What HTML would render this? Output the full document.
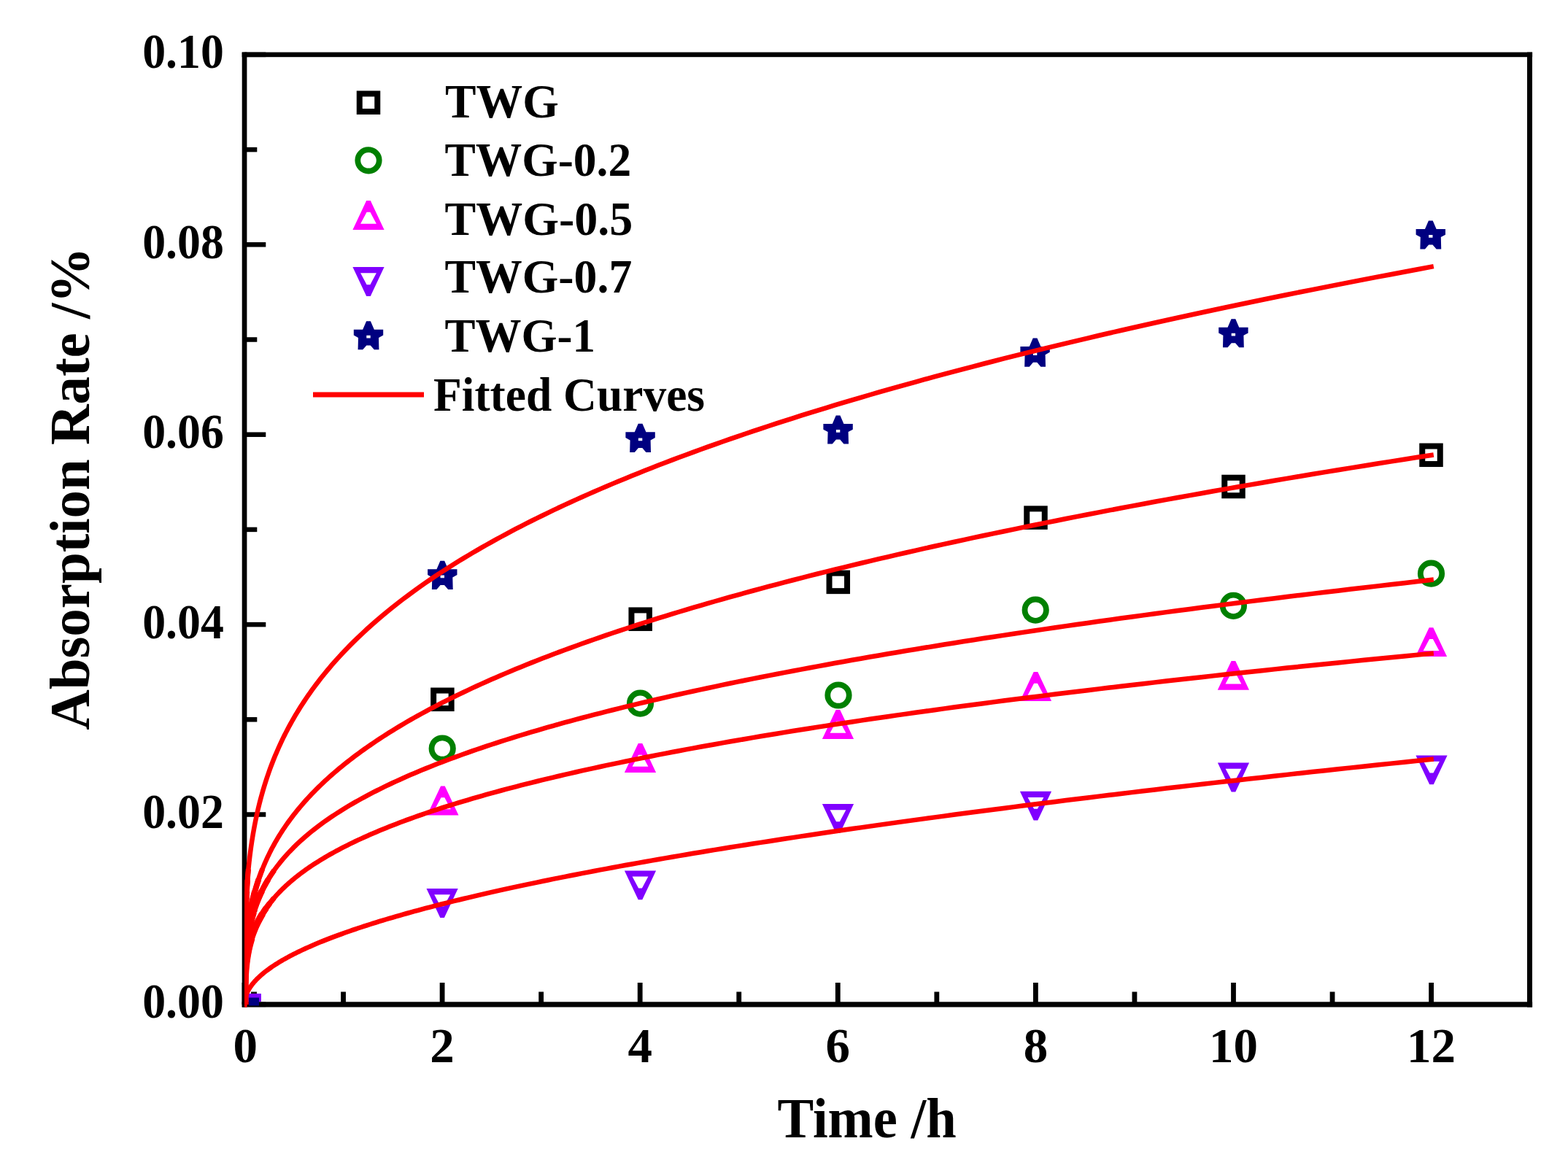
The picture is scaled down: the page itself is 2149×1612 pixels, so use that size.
<!DOCTYPE html>
<html><head><meta charset="utf-8"><title>Absorption Rate vs Time</title>
<style>html,body{margin:0;padding:0;background:#fff;}body{width:2149px;height:1612px;overflow:hidden;}svg{display:block;position:absolute;left:0;top:0;}text{font-family:"Liberation Serif", "Times New Roman", serif;font-weight:bold;fill:#000;}</style>
</head><body>
<svg width="2149" height="1612" viewBox="0 0 2149 1612">
<rect x="0" y="0" width="2149" height="1612" fill="#fff"/>
<rect x="331.70" y="71.60" width="6.70" height="1309.00" fill="#000"/>
<rect x="331.70" y="71.60" width="1768.45" height="6.60" fill="#000"/>
<rect x="2093.00" y="71.60" width="7.00" height="1309.00" fill="#000"/>
<rect x="331.70" y="1373.30" width="1768.45" height="7.20" fill="#000"/>
<rect x="331.60" y="1347.00" width="6.8" height="29.90" fill="#000"/>
<rect x="467.15" y="1359.50" width="6.8" height="17.40" fill="#000"/>
<rect x="602.70" y="1347.00" width="6.8" height="29.90" fill="#000"/>
<rect x="738.25" y="1359.50" width="6.8" height="17.40" fill="#000"/>
<rect x="873.80" y="1347.00" width="6.8" height="29.90" fill="#000"/>
<rect x="1009.35" y="1359.50" width="6.8" height="17.40" fill="#000"/>
<rect x="1144.90" y="1347.00" width="6.8" height="29.90" fill="#000"/>
<rect x="1280.45" y="1359.50" width="6.8" height="17.40" fill="#000"/>
<rect x="1416.00" y="1347.00" width="6.8" height="29.90" fill="#000"/>
<rect x="1551.55" y="1359.50" width="6.8" height="17.40" fill="#000"/>
<rect x="1687.10" y="1347.00" width="6.8" height="29.90" fill="#000"/>
<rect x="1822.65" y="1359.50" width="6.8" height="17.40" fill="#000"/>
<rect x="1958.20" y="1347.00" width="6.8" height="29.90" fill="#000"/>
<rect x="335.05" y="1373.65" width="29.25" height="6.5" fill="#000"/>
<rect x="335.05" y="1243.45" width="17.25" height="6.5" fill="#000"/>
<rect x="335.05" y="1113.25" width="29.25" height="6.5" fill="#000"/>
<rect x="335.05" y="983.05" width="17.25" height="6.5" fill="#000"/>
<rect x="335.05" y="852.85" width="29.25" height="6.5" fill="#000"/>
<rect x="335.05" y="722.65" width="17.25" height="6.5" fill="#000"/>
<rect x="335.05" y="592.45" width="29.25" height="6.5" fill="#000"/>
<rect x="335.05" y="462.25" width="17.25" height="6.5" fill="#000"/>
<rect x="335.05" y="332.05" width="29.25" height="6.5" fill="#000"/>
<rect x="335.05" y="201.85" width="17.25" height="6.5" fill="#000"/>
<rect x="335.05" y="71.65" width="29.25" height="6.5" fill="#000"/>
<rect x="344" y="1359.5" width="8" height="2.5" fill="#111"/>
<rect x="339.3" y="1362" width="18.6" height="11" fill="#8000ff"/>
<rect x="341" y="1367.5" width="14" height="11" fill="#000080"/>
<rect x="594.15" y="946.55" width="24.5" height="24.5" fill="none" stroke="#000" stroke-width="8"/>
<rect x="865.45" y="836.45" width="24.5" height="24.5" fill="none" stroke="#000" stroke-width="8"/>
<rect x="1136.55" y="785.65" width="24.5" height="24.5" fill="none" stroke="#000" stroke-width="8"/>
<rect x="1407.25" y="697.35" width="24.5" height="24.5" fill="none" stroke="#000" stroke-width="8"/>
<rect x="1678.25" y="654.75" width="24.5" height="24.5" fill="none" stroke="#000" stroke-width="8"/>
<rect x="1949.25" y="611.55" width="24.5" height="24.5" fill="none" stroke="#000" stroke-width="8"/>
<circle cx="606.20" cy="1026.00" r="14.7" fill="none" stroke="#008000" stroke-width="7.8"/>
<circle cx="877.50" cy="964.20" r="14.7" fill="none" stroke="#008000" stroke-width="7.8"/>
<circle cx="1149.00" cy="953.00" r="14.7" fill="none" stroke="#008000" stroke-width="7.8"/>
<circle cx="1419.20" cy="836.20" r="14.7" fill="none" stroke="#008000" stroke-width="7.8"/>
<circle cx="1690.40" cy="830.40" r="14.7" fill="none" stroke="#008000" stroke-width="7.8"/>
<circle cx="1961.50" cy="786.20" r="14.7" fill="none" stroke="#008000" stroke-width="7.8"/>
<path d="M585.30 1117.40 L604.10 1077.60 L609.70 1077.60 L628.50 1117.40 Z M596.00 1109.20 L604.50 1093.30 L609.30 1093.30 L617.80 1109.20 Z" fill="#ff00ff" fill-rule="evenodd"/>
<path d="M855.90 1058.90 L874.70 1019.10 L880.30 1019.10 L899.10 1058.90 Z M866.60 1050.70 L875.10 1034.80 L879.90 1034.80 L888.40 1050.70 Z" fill="#ff00ff" fill-rule="evenodd"/>
<path d="M1126.90 1012.90 L1145.70 973.10 L1151.30 973.10 L1170.10 1012.90 Z M1137.60 1004.70 L1146.10 988.80 L1150.90 988.80 L1159.40 1004.70 Z" fill="#ff00ff" fill-rule="evenodd"/>
<path d="M1397.90 960.90 L1416.70 921.10 L1422.30 921.10 L1441.10 960.90 Z M1408.60 952.70 L1417.10 936.80 L1421.90 936.80 L1430.40 952.70 Z" fill="#ff00ff" fill-rule="evenodd"/>
<path d="M1668.80 945.70 L1687.60 905.90 L1693.20 905.90 L1712.00 945.70 Z M1679.50 937.50 L1688.00 921.60 L1692.80 921.60 L1701.30 937.50 Z" fill="#ff00ff" fill-rule="evenodd"/>
<path d="M1939.90 900.10 L1958.70 860.30 L1964.30 860.30 L1983.10 900.10 Z M1950.60 891.90 L1959.10 876.00 L1963.90 876.00 L1972.40 891.90 Z" fill="#ff00ff" fill-rule="evenodd"/>
<path d="M584.50 1218.10 L603.30 1257.90 L608.90 1257.90 L627.70 1218.10 Z M595.20 1226.30 L603.70 1242.20 L608.50 1242.20 L617.00 1226.30 Z" fill="#8000ff" fill-rule="evenodd"/>
<path d="M855.90 1193.40 L874.70 1233.20 L880.30 1233.20 L899.10 1193.40 Z M866.60 1201.60 L875.10 1217.50 L879.90 1217.50 L888.40 1201.60 Z" fill="#8000ff" fill-rule="evenodd"/>
<path d="M1126.90 1102.10 L1145.70 1141.90 L1151.30 1141.90 L1170.10 1102.10 Z M1137.60 1110.30 L1146.10 1126.20 L1150.90 1126.20 L1159.40 1110.30 Z" fill="#8000ff" fill-rule="evenodd"/>
<path d="M1397.90 1084.70 L1416.70 1124.50 L1422.30 1124.50 L1441.10 1084.70 Z M1408.60 1092.90 L1417.10 1108.80 L1421.90 1108.80 L1430.40 1092.90 Z" fill="#8000ff" fill-rule="evenodd"/>
<path d="M1668.90 1045.60 L1687.70 1085.40 L1693.30 1085.40 L1712.10 1045.60 Z M1679.60 1053.80 L1688.10 1069.70 L1692.90 1069.70 L1701.40 1053.80 Z" fill="#8000ff" fill-rule="evenodd"/>
<path d="M1940.40 1035.50 L1959.20 1075.30 L1964.80 1075.30 L1983.60 1035.50 Z M1951.10 1043.70 L1959.60 1059.60 L1964.40 1059.60 L1972.90 1043.70 Z" fill="#8000ff" fill-rule="evenodd"/>
<path d="M603.42 768.83 L609.18 768.83 L614.13 780.37 L626.49 780.37 L626.49 788.09 L620.31 791.49 L620.72 807.97 L614.13 807.97 L608.98 802.00 L603.62 802.00 L598.47 807.97 L591.88 807.97 L592.29 791.49 L586.11 788.09 L586.11 780.37 L598.47 780.37 Z M603.60 788.40 h5.4 v3.8 h-5.4 Z" fill="#000080" fill-rule="evenodd"/>
<path d="M874.72 580.83 L880.48 580.83 L885.43 592.37 L897.79 592.37 L897.79 600.09 L891.61 603.49 L892.02 619.97 L885.43 619.97 L880.28 614.00 L874.92 614.00 L869.77 619.97 L863.18 619.97 L863.59 603.49 L857.41 600.09 L857.41 592.37 L869.77 592.37 Z M874.90 600.40 h5.4 v3.8 h-5.4 Z" fill="#000080" fill-rule="evenodd"/>
<path d="M1145.72 569.43 L1151.48 569.43 L1156.43 580.97 L1168.79 580.97 L1168.79 588.69 L1162.61 592.09 L1163.02 608.57 L1156.43 608.57 L1151.28 602.60 L1145.92 602.60 L1140.77 608.57 L1134.18 608.57 L1134.59 592.09 L1128.41 588.69 L1128.41 580.97 L1140.77 580.97 Z M1145.90 589.00 h5.4 v3.8 h-5.4 Z" fill="#000080" fill-rule="evenodd"/>
<path d="M1415.72 463.53 L1421.48 463.53 L1426.43 475.07 L1438.79 475.07 L1438.79 482.79 L1432.61 486.19 L1433.02 502.67 L1426.43 502.67 L1421.28 496.70 L1415.92 496.70 L1410.77 502.67 L1404.18 502.67 L1404.59 486.19 L1398.41 482.79 L1398.41 475.07 L1410.77 475.07 Z M1415.90 483.10 h5.4 v3.8 h-5.4 Z" fill="#000080" fill-rule="evenodd"/>
<path d="M1687.52 437.13 L1693.28 437.13 L1698.23 448.67 L1710.59 448.67 L1710.59 456.39 L1704.41 459.79 L1704.82 476.27 L1698.23 476.27 L1693.08 470.30 L1687.72 470.30 L1682.57 476.27 L1675.98 476.27 L1676.39 459.79 L1670.21 456.39 L1670.21 448.67 L1682.57 448.67 Z M1687.70 456.70 h5.4 v3.8 h-5.4 Z" fill="#000080" fill-rule="evenodd"/>
<path d="M1957.92 302.43 L1963.68 302.43 L1968.63 313.97 L1980.99 313.97 L1980.99 321.69 L1974.81 325.09 L1975.22 341.57 L1968.63 341.57 L1963.48 335.60 L1958.12 335.60 L1952.97 341.57 L1946.38 341.57 L1946.79 325.09 L1940.61 321.69 L1940.61 313.97 L1952.97 313.97 Z M1958.10 322.00 h5.4 v3.8 h-5.4 Z" fill="#000080" fill-rule="evenodd"/>
<defs><clipPath id="pc"><rect x="335.5" y="0" width="1800" height="1600"/></clipPath></defs>
<g clip-path="url(#pc)">
<path d="M335.00 1376.90 L335.00 1369.83 L335.00 1363.77 L335.00 1358.05 L335.01 1352.53 L335.01 1347.16 L335.02 1341.91 L335.03 1336.75 L335.05 1331.67 L335.07 1326.65 L335.09 1321.70 L335.12 1316.80 L335.16 1311.94 L335.20 1307.13 L335.25 1302.36 L335.31 1297.63 L335.38 1292.93 L335.45 1288.26 L335.54 1283.62 L335.63 1279.01 L335.74 1274.43 L335.86 1269.87 L335.99 1265.33 L336.13 1260.81 L336.28 1256.32 L336.45 1251.84 L336.63 1247.39 L336.82 1242.95 L337.03 1238.53 L337.26 1234.13 L337.50 1229.75 L337.76 1225.38 L338.03 1221.02 L338.33 1216.68 L338.64 1212.35 L338.97 1208.04 L339.32 1203.74 L339.69 1199.46 L340.08 1195.18 L340.49 1190.92 L340.92 1186.67 L341.38 1182.43 L341.86 1178.20 L342.36 1173.99 L342.88 1169.78 L343.43 1165.58 L344.01 1161.40 L344.61 1157.22 L345.23 1153.05 L345.89 1148.90 L346.57 1144.75 L347.28 1140.61 L348.01 1136.48 L348.78 1132.35 L349.57 1128.24 L350.40 1124.13 L351.25 1120.04 L352.14 1115.95 L353.06 1111.87 L354.01 1107.79 L354.99 1103.72 L356.01 1099.66 L357.06 1095.61 L358.14 1091.57 L359.26 1087.53 L360.42 1083.49 L361.61 1079.47 L362.83 1075.45 L364.10 1071.44 L365.40 1067.43 L366.74 1063.43 L368.12 1059.44 L369.54 1055.45 L371.00 1051.47 L372.50 1047.49 L374.04 1043.52 L375.63 1039.56 L377.25 1035.60 L378.92 1031.65 L380.63 1027.70 L382.38 1023.76 L384.18 1019.82 L386.03 1015.89 L387.92 1011.96 L389.85 1008.04 L391.84 1004.12 L393.86 1000.21 L395.94 996.30 L398.07 992.40 L400.24 988.50 L402.47 984.61 L404.74 980.72 L407.06 976.84 L409.44 972.96 L411.87 969.09 L414.35 965.22 L416.88 961.35 L419.46 957.49 L422.10 953.63 L424.80 949.78 L427.55 945.93 L430.35 942.09 L433.21 938.25 L436.13 934.41 L439.10 930.58 L442.13 926.75 L445.22 922.93 L448.37 919.11 L451.58 915.29 L454.85 911.48 L458.18 907.67 L461.57 903.86 L465.02 900.06 L468.54 896.26 L472.11 892.47 L475.75 888.68 L479.46 884.89 L483.22 881.11 L487.06 877.33 L490.96 873.55 L494.92 869.78 L498.95 866.01 L503.05 862.24 L507.22 858.48 L511.45 854.72 L515.76 850.96 L520.13 847.21 L524.57 843.46 L529.08 839.71 L533.67 835.97 L538.33 832.22 L543.05 828.49 L547.85 824.75 L552.73 821.02 L557.68 817.29 L562.70 813.57 L567.80 809.84 L572.97 806.12 L578.22 802.41 L583.55 798.69 L588.95 794.98 L594.43 791.27 L599.99 787.57 L605.63 783.86 L611.34 780.16 L617.14 776.47 L623.02 772.77 L628.98 769.08 L635.02 765.39 L641.14 761.71 L647.34 758.02 L653.63 754.34 L660.01 750.66 L666.46 746.99 L673.00 743.31 L679.63 739.64 L686.35 735.98 L693.15 732.31 L700.03 728.65 L707.01 724.99 L714.07 721.33 L721.22 717.67 L728.46 714.02 L735.80 710.37 L743.22 706.72 L750.73 703.07 L758.34 699.43 L766.03 695.79 L773.82 692.15 L781.71 688.51 L789.68 684.88 L797.75 681.25 L805.92 677.62 L814.18 673.99 L822.54 670.37 L830.99 666.74 L839.54 663.12 L848.19 659.50 L856.94 655.89 L865.79 652.27 L874.73 648.66 L883.78 645.05 L892.92 641.44 L902.17 637.84 L911.52 634.23 L920.97 630.63 L930.52 627.03 L940.18 623.44 L949.94 619.84 L959.81 616.25 L969.78 612.66 L979.85 609.07 L990.03 605.48 L1000.32 601.90 L1010.72 598.31 L1021.22 594.73 L1031.83 591.15 L1042.55 587.58 L1053.38 584.00 L1064.32 580.43 L1075.37 576.86 L1086.53 573.29 L1097.81 569.72 L1109.19 566.16 L1120.69 562.59 L1132.30 559.03 L1144.03 555.47 L1155.87 551.91 L1167.82 548.36 L1179.89 544.80 L1192.07 541.25 L1204.38 537.70 L1216.80 534.15 L1229.33 530.60 L1241.99 527.06 L1254.76 523.52 L1267.66 519.97 L1280.67 516.43 L1293.80 512.90 L1307.06 509.36 L1320.44 505.82 L1333.94 502.29 L1347.56 498.76 L1361.30 495.23 L1375.17 491.70 L1389.16 488.18 L1403.28 484.65 L1417.53 481.13 L1431.90 477.61 L1446.39 474.09 L1461.02 470.57 L1475.77 467.06 L1490.65 463.54 L1505.65 460.03 L1520.79 456.52 L1536.06 453.01 L1551.46 449.50 L1566.99 445.99 L1582.65 442.49 L1598.44 438.98 L1614.36 435.48 L1630.42 431.98 L1646.62 428.48 L1662.94 424.99 L1679.41 421.49 L1696.00 418.00 L1712.74 414.51 L1729.61 411.01 L1746.61 407.53 L1763.76 404.04 L1781.04 400.55 L1798.46 397.07 L1816.02 393.58 L1833.73 390.10 L1851.57 386.62 L1869.55 383.14 L1887.68 379.66 L1905.94 376.19 L1924.35 372.71 L1942.90 369.24 L1961.60 365.77" fill="none" stroke="#ff0000" stroke-width="6.5" stroke-linejoin="round" stroke-linecap="square"/>
<path d="M335.00 1376.90 L335.00 1374.05 L335.00 1371.19 L335.00 1368.32 L335.01 1365.46 L335.01 1362.58 L335.02 1359.71 L335.03 1356.84 L335.05 1353.96 L335.07 1351.09 L335.09 1348.21 L335.12 1345.33 L335.16 1342.46 L335.20 1339.58 L335.25 1336.70 L335.31 1333.82 L335.38 1330.94 L335.45 1328.05 L335.54 1325.17 L335.63 1322.29 L335.74 1319.41 L335.86 1316.52 L335.99 1313.64 L336.13 1310.76 L336.28 1307.87 L336.45 1304.99 L336.63 1302.10 L336.82 1299.22 L337.03 1296.33 L337.26 1293.45 L337.50 1290.56 L337.76 1287.67 L338.03 1284.79 L338.33 1281.90 L338.64 1279.01 L338.97 1276.13 L339.32 1273.24 L339.69 1270.35 L340.08 1267.46 L340.49 1264.57 L340.92 1261.68 L341.38 1258.80 L341.86 1255.91 L342.36 1253.02 L342.88 1250.13 L343.43 1247.24 L344.01 1244.35 L344.61 1241.46 L345.23 1238.57 L345.89 1235.68 L346.57 1232.79 L347.28 1229.90 L348.01 1227.01 L348.78 1224.11 L349.57 1221.22 L350.40 1218.33 L351.25 1215.44 L352.14 1212.55 L353.06 1209.66 L354.01 1206.77 L354.99 1203.87 L356.01 1200.98 L357.06 1198.09 L358.14 1195.20 L359.26 1192.30 L360.42 1189.41 L361.61 1186.52 L362.83 1183.63 L364.10 1180.73 L365.40 1177.84 L366.74 1174.95 L368.12 1172.05 L369.54 1169.16 L371.00 1166.26 L372.50 1163.37 L374.04 1160.48 L375.63 1157.58 L377.25 1154.69 L378.92 1151.79 L380.63 1148.90 L382.38 1146.01 L384.18 1143.11 L386.03 1140.22 L387.92 1137.32 L389.85 1134.43 L391.84 1131.53 L393.86 1128.64 L395.94 1125.74 L398.07 1122.85 L400.24 1119.95 L402.47 1117.05 L404.74 1114.16 L407.06 1111.26 L409.44 1108.37 L411.87 1105.47 L414.35 1102.58 L416.88 1099.68 L419.46 1096.78 L422.10 1093.89 L424.80 1090.99 L427.55 1088.09 L430.35 1085.20 L433.21 1082.30 L436.13 1079.41 L439.10 1076.51 L442.13 1073.61 L445.22 1070.71 L448.37 1067.82 L451.58 1064.92 L454.85 1062.02 L458.18 1059.13 L461.57 1056.23 L465.02 1053.33 L468.54 1050.43 L472.11 1047.54 L475.75 1044.64 L479.46 1041.74 L483.22 1038.84 L487.06 1035.95 L490.96 1033.05 L494.92 1030.15 L498.95 1027.25 L503.05 1024.35 L507.22 1021.46 L511.45 1018.56 L515.76 1015.66 L520.13 1012.76 L524.57 1009.86 L529.08 1006.96 L533.67 1004.07 L538.33 1001.17 L543.05 998.27 L547.85 995.37 L552.73 992.47 L557.68 989.57 L562.70 986.67 L567.80 983.77 L572.97 980.88 L578.22 977.98 L583.55 975.08 L588.95 972.18 L594.43 969.28 L599.99 966.38 L605.63 963.48 L611.34 960.58 L617.14 957.68 L623.02 954.78 L628.98 951.88 L635.02 948.98 L641.14 946.08 L647.34 943.18 L653.63 940.28 L660.01 937.38 L666.46 934.48 L673.00 931.58 L679.63 928.68 L686.35 925.78 L693.15 922.88 L700.03 919.98 L707.01 917.08 L714.07 914.18 L721.22 911.28 L728.46 908.38 L735.80 905.48 L743.22 902.58 L750.73 899.68 L758.34 896.78 L766.03 893.88 L773.82 890.98 L781.71 888.08 L789.68 885.18 L797.75 882.27 L805.92 879.37 L814.18 876.47 L822.54 873.57 L830.99 870.67 L839.54 867.77 L848.19 864.87 L856.94 861.97 L865.79 859.07 L874.73 856.16 L883.78 853.26 L892.92 850.36 L902.17 847.46 L911.52 844.56 L920.97 841.66 L930.52 838.75 L940.18 835.85 L949.94 832.95 L959.81 830.05 L969.78 827.15 L979.85 824.25 L990.03 821.34 L1000.32 818.44 L1010.72 815.54 L1021.22 812.64 L1031.83 809.74 L1042.55 806.83 L1053.38 803.93 L1064.32 801.03 L1075.37 798.13 L1086.53 795.23 L1097.81 792.32 L1109.19 789.42 L1120.69 786.52 L1132.30 783.62 L1144.03 780.71 L1155.87 777.81 L1167.82 774.91 L1179.89 772.01 L1192.07 769.10 L1204.38 766.20 L1216.80 763.30 L1229.33 760.39 L1241.99 757.49 L1254.76 754.59 L1267.66 751.69 L1280.67 748.78 L1293.80 745.88 L1307.06 742.98 L1320.44 740.07 L1333.94 737.17 L1347.56 734.27 L1361.30 731.36 L1375.17 728.46 L1389.16 725.56 L1403.28 722.66 L1417.53 719.75 L1431.90 716.85 L1446.39 713.95 L1461.02 711.04 L1475.77 708.14 L1490.65 705.23 L1505.65 702.33 L1520.79 699.43 L1536.06 696.52 L1551.46 693.62 L1566.99 690.72 L1582.65 687.81 L1598.44 684.91 L1614.36 682.01 L1630.42 679.10 L1646.62 676.20 L1662.94 673.29 L1679.41 670.39 L1696.00 667.49 L1712.74 664.58 L1729.61 661.68 L1746.61 658.77 L1763.76 655.87 L1781.04 652.97 L1798.46 650.06 L1816.02 647.16 L1833.73 644.25 L1851.57 641.35 L1869.55 638.44 L1887.68 635.54 L1905.94 632.64 L1924.35 629.73 L1942.90 626.83 L1961.60 623.92" fill="none" stroke="#ff0000" stroke-width="6.5" stroke-linejoin="round" stroke-linecap="square"/>
<path d="M335.00 1376.90 L335.00 1373.73 L335.00 1370.83 L335.00 1368.03 L335.01 1365.28 L335.01 1362.57 L335.02 1359.90 L335.03 1357.26 L335.05 1354.64 L335.07 1352.04 L335.09 1349.46 L335.12 1346.90 L335.16 1344.35 L335.20 1341.81 L335.25 1339.29 L335.31 1336.77 L335.38 1334.27 L335.45 1331.78 L335.54 1329.29 L335.63 1326.82 L335.74 1324.35 L335.86 1321.89 L335.99 1319.44 L336.13 1317.00 L336.28 1314.56 L336.45 1312.12 L336.63 1309.70 L336.82 1307.28 L337.03 1304.86 L337.26 1302.45 L337.50 1300.05 L337.76 1297.65 L338.03 1295.26 L338.33 1292.87 L338.64 1290.48 L338.97 1288.10 L339.32 1285.73 L339.69 1283.35 L340.08 1280.98 L340.49 1278.62 L340.92 1276.26 L341.38 1273.90 L341.86 1271.55 L342.36 1269.20 L342.88 1266.85 L343.43 1264.51 L344.01 1262.17 L344.61 1259.83 L345.23 1257.50 L345.89 1255.17 L346.57 1252.84 L347.28 1250.52 L348.01 1248.20 L348.78 1245.88 L349.57 1243.56 L350.40 1241.25 L351.25 1238.94 L352.14 1236.63 L353.06 1234.32 L354.01 1232.02 L354.99 1229.72 L356.01 1227.42 L357.06 1225.12 L358.14 1222.83 L359.26 1220.54 L360.42 1218.25 L361.61 1215.96 L362.83 1213.68 L364.10 1211.39 L365.40 1209.11 L366.74 1206.83 L368.12 1204.56 L369.54 1202.28 L371.00 1200.01 L372.50 1197.74 L374.04 1195.47 L375.63 1193.20 L377.25 1190.94 L378.92 1188.67 L380.63 1186.41 L382.38 1184.15 L384.18 1181.90 L386.03 1179.64 L387.92 1177.38 L389.85 1175.13 L391.84 1172.88 L393.86 1170.63 L395.94 1168.38 L398.07 1166.14 L400.24 1163.89 L402.47 1161.65 L404.74 1159.41 L407.06 1157.17 L409.44 1154.93 L411.87 1152.69 L414.35 1150.46 L416.88 1148.22 L419.46 1145.99 L422.10 1143.76 L424.80 1141.53 L427.55 1139.30 L430.35 1137.08 L433.21 1134.85 L436.13 1132.63 L439.10 1130.40 L442.13 1128.18 L445.22 1125.96 L448.37 1123.74 L451.58 1121.53 L454.85 1119.31 L458.18 1117.10 L461.57 1114.88 L465.02 1112.67 L468.54 1110.46 L472.11 1108.25 L475.75 1106.04 L479.46 1103.83 L483.22 1101.63 L487.06 1099.42 L490.96 1097.22 L494.92 1095.01 L498.95 1092.81 L503.05 1090.61 L507.22 1088.41 L511.45 1086.21 L515.76 1084.02 L520.13 1081.82 L524.57 1079.63 L529.08 1077.43 L533.67 1075.24 L538.33 1073.05 L543.05 1070.86 L547.85 1068.67 L552.73 1066.48 L557.68 1064.29 L562.70 1062.10 L567.80 1059.92 L572.97 1057.73 L578.22 1055.55 L583.55 1053.37 L588.95 1051.19 L594.43 1049.01 L599.99 1046.83 L605.63 1044.65 L611.34 1042.47 L617.14 1040.29 L623.02 1038.12 L628.98 1035.94 L635.02 1033.77 L641.14 1031.60 L647.34 1029.42 L653.63 1027.25 L660.01 1025.08 L666.46 1022.91 L673.00 1020.74 L679.63 1018.58 L686.35 1016.41 L693.15 1014.24 L700.03 1012.08 L707.01 1009.91 L714.07 1007.75 L721.22 1005.59 L728.46 1003.43 L735.80 1001.26 L743.22 999.10 L750.73 996.95 L758.34 994.79 L766.03 992.63 L773.82 990.47 L781.71 988.32 L789.68 986.16 L797.75 984.01 L805.92 981.85 L814.18 979.70 L822.54 977.55 L830.99 975.40 L839.54 973.25 L848.19 971.10 L856.94 968.95 L865.79 966.80 L874.73 964.65 L883.78 962.51 L892.92 960.36 L902.17 958.21 L911.52 956.07 L920.97 953.93 L930.52 951.78 L940.18 949.64 L949.94 947.50 L959.81 945.36 L969.78 943.22 L979.85 941.08 L990.03 938.94 L1000.32 936.80 L1010.72 934.66 L1021.22 932.53 L1031.83 930.39 L1042.55 928.26 L1053.38 926.12 L1064.32 923.99 L1075.37 921.85 L1086.53 919.72 L1097.81 917.59 L1109.19 915.46 L1120.69 913.33 L1132.30 911.20 L1144.03 909.07 L1155.87 906.94 L1167.82 904.81 L1179.89 902.68 L1192.07 900.56 L1204.38 898.43 L1216.80 896.30 L1229.33 894.18 L1241.99 892.05 L1254.76 889.93 L1267.66 887.81 L1280.67 885.68 L1293.80 883.56 L1307.06 881.44 L1320.44 879.32 L1333.94 877.20 L1347.56 875.08 L1361.30 872.96 L1375.17 870.84 L1389.16 868.73 L1403.28 866.61 L1417.53 864.49 L1431.90 862.38 L1446.39 860.26 L1461.02 858.15 L1475.77 856.03 L1490.65 853.92 L1505.65 851.81 L1520.79 849.69 L1536.06 847.58 L1551.46 845.47 L1566.99 843.36 L1582.65 841.25 L1598.44 839.14 L1614.36 837.03 L1630.42 834.92 L1646.62 832.81 L1662.94 830.71 L1679.41 828.60 L1696.00 826.49 L1712.74 824.39 L1729.61 822.28 L1746.61 820.18 L1763.76 818.07 L1781.04 815.97 L1798.46 813.87 L1816.02 811.76 L1833.73 809.66 L1851.57 807.56 L1869.55 805.46 L1887.68 803.36 L1905.94 801.26 L1924.35 799.16 L1942.90 797.06 L1961.60 794.96" fill="none" stroke="#ff0000" stroke-width="6.5" stroke-linejoin="round" stroke-linecap="square"/>
<path d="M335.00 1376.90 L335.00 1374.71 L335.00 1372.61 L335.00 1370.54 L335.01 1368.50 L335.01 1366.47 L335.02 1364.45 L335.03 1362.44 L335.05 1360.45 L335.07 1358.46 L335.09 1356.47 L335.12 1354.49 L335.16 1352.52 L335.20 1350.55 L335.25 1348.59 L335.31 1346.63 L335.38 1344.68 L335.45 1342.73 L335.54 1340.78 L335.63 1338.84 L335.74 1336.89 L335.86 1334.96 L335.99 1333.02 L336.13 1331.09 L336.28 1329.16 L336.45 1327.23 L336.63 1325.31 L336.82 1323.38 L337.03 1321.46 L337.26 1319.54 L337.50 1317.63 L337.76 1315.71 L338.03 1313.80 L338.33 1311.89 L338.64 1309.98 L338.97 1308.07 L339.32 1306.17 L339.69 1304.26 L340.08 1302.36 L340.49 1300.46 L340.92 1298.56 L341.38 1296.66 L341.86 1294.76 L342.36 1292.87 L342.88 1290.97 L343.43 1289.08 L344.01 1287.19 L344.61 1285.30 L345.23 1283.41 L345.89 1281.52 L346.57 1279.63 L347.28 1277.75 L348.01 1275.86 L348.78 1273.98 L349.57 1272.10 L350.40 1270.22 L351.25 1268.34 L352.14 1266.46 L353.06 1264.58 L354.01 1262.70 L354.99 1260.83 L356.01 1258.95 L357.06 1257.08 L358.14 1255.20 L359.26 1253.33 L360.42 1251.46 L361.61 1249.59 L362.83 1247.72 L364.10 1245.85 L365.40 1243.98 L366.74 1242.11 L368.12 1240.25 L369.54 1238.38 L371.00 1236.52 L372.50 1234.65 L374.04 1232.79 L375.63 1230.92 L377.25 1229.06 L378.92 1227.20 L380.63 1225.34 L382.38 1223.48 L384.18 1221.62 L386.03 1219.76 L387.92 1217.91 L389.85 1216.05 L391.84 1214.19 L393.86 1212.34 L395.94 1210.48 L398.07 1208.63 L400.24 1206.77 L402.47 1204.92 L404.74 1203.07 L407.06 1201.22 L409.44 1199.37 L411.87 1197.51 L414.35 1195.66 L416.88 1193.82 L419.46 1191.97 L422.10 1190.12 L424.80 1188.27 L427.55 1186.42 L430.35 1184.58 L433.21 1182.73 L436.13 1180.89 L439.10 1179.04 L442.13 1177.20 L445.22 1175.35 L448.37 1173.51 L451.58 1171.67 L454.85 1169.82 L458.18 1167.98 L461.57 1166.14 L465.02 1164.30 L468.54 1162.46 L472.11 1160.62 L475.75 1158.78 L479.46 1156.94 L483.22 1155.10 L487.06 1153.27 L490.96 1151.43 L494.92 1149.59 L498.95 1147.75 L503.05 1145.92 L507.22 1144.08 L511.45 1142.25 L515.76 1140.41 L520.13 1138.58 L524.57 1136.75 L529.08 1134.91 L533.67 1133.08 L538.33 1131.25 L543.05 1129.42 L547.85 1127.58 L552.73 1125.75 L557.68 1123.92 L562.70 1122.09 L567.80 1120.26 L572.97 1118.43 L578.22 1116.60 L583.55 1114.77 L588.95 1112.95 L594.43 1111.12 L599.99 1109.29 L605.63 1107.46 L611.34 1105.64 L617.14 1103.81 L623.02 1101.98 L628.98 1100.16 L635.02 1098.33 L641.14 1096.51 L647.34 1094.68 L653.63 1092.86 L660.01 1091.04 L666.46 1089.21 L673.00 1087.39 L679.63 1085.57 L686.35 1083.75 L693.15 1081.92 L700.03 1080.10 L707.01 1078.28 L714.07 1076.46 L721.22 1074.64 L728.46 1072.82 L735.80 1071.00 L743.22 1069.18 L750.73 1067.36 L758.34 1065.54 L766.03 1063.72 L773.82 1061.91 L781.71 1060.09 L789.68 1058.27 L797.75 1056.45 L805.92 1054.64 L814.18 1052.82 L822.54 1051.00 L830.99 1049.19 L839.54 1047.37 L848.19 1045.56 L856.94 1043.74 L865.79 1041.93 L874.73 1040.11 L883.78 1038.30 L892.92 1036.49 L902.17 1034.67 L911.52 1032.86 L920.97 1031.05 L930.52 1029.23 L940.18 1027.42 L949.94 1025.61 L959.81 1023.80 L969.78 1021.99 L979.85 1020.18 L990.03 1018.37 L1000.32 1016.55 L1010.72 1014.74 L1021.22 1012.93 L1031.83 1011.13 L1042.55 1009.32 L1053.38 1007.51 L1064.32 1005.70 L1075.37 1003.89 L1086.53 1002.08 L1097.81 1000.27 L1109.19 998.47 L1120.69 996.66 L1132.30 994.85 L1144.03 993.04 L1155.87 991.24 L1167.82 989.43 L1179.89 987.63 L1192.07 985.82 L1204.38 984.01 L1216.80 982.21 L1229.33 980.40 L1241.99 978.60 L1254.76 976.79 L1267.66 974.99 L1280.67 973.19 L1293.80 971.38 L1307.06 969.58 L1320.44 967.78 L1333.94 965.97 L1347.56 964.17 L1361.30 962.37 L1375.17 960.57 L1389.16 958.76 L1403.28 956.96 L1417.53 955.16 L1431.90 953.36 L1446.39 951.56 L1461.02 949.76 L1475.77 947.96 L1490.65 946.16 L1505.65 944.36 L1520.79 942.56 L1536.06 940.76 L1551.46 938.96 L1566.99 937.16 L1582.65 935.36 L1598.44 933.56 L1614.36 931.76 L1630.42 929.96 L1646.62 928.17 L1662.94 926.37 L1679.41 924.57 L1696.00 922.77 L1712.74 920.98 L1729.61 919.18 L1746.61 917.38 L1763.76 915.59 L1781.04 913.79 L1798.46 911.99 L1816.02 910.20 L1833.73 908.40 L1851.57 906.61 L1869.55 904.81 L1887.68 903.02 L1905.94 901.22 L1924.35 899.43 L1942.90 897.63 L1961.60 895.84" fill="none" stroke="#ff0000" stroke-width="6.5" stroke-linejoin="round" stroke-linecap="square"/>
<path d="M335.00 1376.90 L335.00 1376.82 L335.00 1376.67 L335.00 1376.47 L335.01 1376.24 L335.01 1375.98 L335.02 1375.69 L335.03 1375.38 L335.05 1375.04 L335.07 1374.69 L335.09 1374.31 L335.12 1373.91 L335.16 1373.50 L335.20 1373.06 L335.25 1372.62 L335.31 1372.15 L335.38 1371.67 L335.45 1371.18 L335.54 1370.67 L335.63 1370.14 L335.74 1369.60 L335.86 1369.05 L335.99 1368.49 L336.13 1367.91 L336.28 1367.32 L336.45 1366.72 L336.63 1366.10 L336.82 1365.48 L337.03 1364.84 L337.26 1364.19 L337.50 1363.53 L337.76 1362.86 L338.03 1362.18 L338.33 1361.49 L338.64 1360.79 L338.97 1360.07 L339.32 1359.35 L339.69 1358.62 L340.08 1357.87 L340.49 1357.12 L340.92 1356.36 L341.38 1355.59 L341.86 1354.81 L342.36 1354.02 L342.88 1353.22 L343.43 1352.41 L344.01 1351.59 L344.61 1350.77 L345.23 1349.93 L345.89 1349.09 L346.57 1348.24 L347.28 1347.38 L348.01 1346.51 L348.78 1345.63 L349.57 1344.75 L350.40 1343.85 L351.25 1342.95 L352.14 1342.04 L353.06 1341.13 L354.01 1340.20 L354.99 1339.27 L356.01 1338.33 L357.06 1337.38 L358.14 1336.43 L359.26 1335.46 L360.42 1334.49 L361.61 1333.52 L362.83 1332.53 L364.10 1331.54 L365.40 1330.54 L366.74 1329.53 L368.12 1328.52 L369.54 1327.50 L371.00 1326.47 L372.50 1325.43 L374.04 1324.39 L375.63 1323.34 L377.25 1322.29 L378.92 1321.22 L380.63 1320.16 L382.38 1319.08 L384.18 1318.00 L386.03 1316.91 L387.92 1315.81 L389.85 1314.71 L391.84 1313.60 L393.86 1312.49 L395.94 1311.36 L398.07 1310.24 L400.24 1309.10 L402.47 1307.96 L404.74 1306.82 L407.06 1305.66 L409.44 1304.50 L411.87 1303.34 L414.35 1302.17 L416.88 1300.99 L419.46 1299.80 L422.10 1298.62 L424.80 1297.42 L427.55 1296.22 L430.35 1295.01 L433.21 1293.80 L436.13 1292.58 L439.10 1291.35 L442.13 1290.12 L445.22 1288.88 L448.37 1287.64 L451.58 1286.39 L454.85 1285.14 L458.18 1283.88 L461.57 1282.61 L465.02 1281.34 L468.54 1280.07 L472.11 1278.78 L475.75 1277.50 L479.46 1276.20 L483.22 1274.90 L487.06 1273.60 L490.96 1272.29 L494.92 1270.97 L498.95 1269.65 L503.05 1268.33 L507.22 1267.00 L511.45 1265.66 L515.76 1264.32 L520.13 1262.97 L524.57 1261.62 L529.08 1260.26 L533.67 1258.90 L538.33 1257.53 L543.05 1256.15 L547.85 1254.77 L552.73 1253.39 L557.68 1252.00 L562.70 1250.61 L567.80 1249.21 L572.97 1247.80 L578.22 1246.39 L583.55 1244.98 L588.95 1243.56 L594.43 1242.13 L599.99 1240.71 L605.63 1239.27 L611.34 1237.83 L617.14 1236.39 L623.02 1234.94 L628.98 1233.48 L635.02 1232.02 L641.14 1230.56 L647.34 1229.09 L653.63 1227.62 L660.01 1226.14 L666.46 1224.66 L673.00 1223.17 L679.63 1221.67 L686.35 1220.18 L693.15 1218.67 L700.03 1217.17 L707.01 1215.66 L714.07 1214.14 L721.22 1212.62 L728.46 1211.09 L735.80 1209.56 L743.22 1208.03 L750.73 1206.49 L758.34 1204.94 L766.03 1203.39 L773.82 1201.84 L781.71 1200.28 L789.68 1198.72 L797.75 1197.15 L805.92 1195.58 L814.18 1194.00 L822.54 1192.42 L830.99 1190.84 L839.54 1189.25 L848.19 1187.65 L856.94 1186.06 L865.79 1184.45 L874.73 1182.84 L883.78 1181.23 L892.92 1179.62 L902.17 1178.00 L911.52 1176.37 L920.97 1174.74 L930.52 1173.11 L940.18 1171.47 L949.94 1169.83 L959.81 1168.18 L969.78 1166.53 L979.85 1164.87 L990.03 1163.21 L1000.32 1161.55 L1010.72 1159.88 L1021.22 1158.21 L1031.83 1156.53 L1042.55 1154.85 L1053.38 1153.17 L1064.32 1151.48 L1075.37 1149.78 L1086.53 1148.09 L1097.81 1146.39 L1109.19 1144.68 L1120.69 1142.97 L1132.30 1141.26 L1144.03 1139.54 L1155.87 1137.81 L1167.82 1136.09 L1179.89 1134.36 L1192.07 1132.62 L1204.38 1130.88 L1216.80 1129.14 L1229.33 1127.39 L1241.99 1125.64 L1254.76 1123.89 L1267.66 1122.13 L1280.67 1120.37 L1293.80 1118.60 L1307.06 1116.83 L1320.44 1115.05 L1333.94 1113.27 L1347.56 1111.49 L1361.30 1109.70 L1375.17 1107.91 L1389.16 1106.12 L1403.28 1104.32 L1417.53 1102.51 L1431.90 1100.71 L1446.39 1098.90 L1461.02 1097.08 L1475.77 1095.26 L1490.65 1093.44 L1505.65 1091.62 L1520.79 1089.79 L1536.06 1087.95 L1551.46 1086.11 L1566.99 1084.27 L1582.65 1082.43 L1598.44 1080.58 L1614.36 1078.72 L1630.42 1076.87 L1646.62 1075.01 L1662.94 1073.14 L1679.41 1071.27 L1696.00 1069.40 L1712.74 1067.53 L1729.61 1065.65 L1746.61 1063.76 L1763.76 1061.88 L1781.04 1059.99 L1798.46 1058.09 L1816.02 1056.19 L1833.73 1054.29 L1851.57 1052.38 L1869.55 1050.47 L1887.68 1048.56 L1905.94 1046.64 L1924.35 1044.72 L1942.90 1042.80 L1961.60 1040.87" fill="none" stroke="#ff0000" stroke-width="6.5" stroke-linejoin="round" stroke-linecap="square"/>
<path d="M335.00 1376.90 L335.00 1355.61 L335.02 1344.74 L335.03 1335.96 L335.06 1328.32 L335.09 1321.42 L335.14 1315.06 L335.18 1309.12 L335.24 1303.52 L335.30 1298.19 L335.38 1293.10 L335.46 1288.21 L335.54 1283.50 L335.64 1278.94 L335.74 1274.52 L335.85 1270.23 L335.96 1266.06 L336.09 1261.99 L336.22 1258.01 L336.36 1254.13 L336.51 1250.32 L336.66 1246.59 L336.82 1242.93 L336.99 1239.34 L337.17 1235.82 L337.35 1232.35 L337.55 1228.93 L337.74 1225.57 L337.95 1222.26 L338.17 1219.00 L338.39 1215.78 L338.62 1212.61 L338.86 1209.48 L339.10 1206.38 L339.35 1203.33 L339.61 1200.31 L339.88 1197.32 L340.15 1194.37 L340.44 1191.45" fill="none" stroke="#ff0000" stroke-width="7.2" stroke-linejoin="round"/>
<path d="M335.00 1376.90 L335.00 1355.61 L335.02 1344.74 L335.03 1335.96 L335.06 1328.32 L335.09 1321.42 L335.14 1315.06 L335.18 1309.12 L335.24 1303.52 L335.30 1298.19 L335.38 1293.10 L335.46 1288.21 L335.54 1283.50 L335.64 1278.94 L335.74 1274.52 L335.85 1270.23 L335.96 1266.06 L336.09 1261.99 L336.22 1258.01 L336.36 1254.13 L336.51 1250.32 L336.66 1246.59 L336.82 1242.93 L336.99 1239.34 L337.17 1235.82 L337.35 1232.35 L337.55 1228.93 L337.74 1225.57 L337.95 1222.26 L338.17 1219.00 L338.39 1215.78 L338.62 1212.61 L338.86 1209.48 L339.10 1206.38" fill="none" stroke="#ff0000" stroke-width="7.9" stroke-linejoin="round"/>
<path d="M335.00 1376.90 L335.00 1355.61 L335.02 1344.74 L335.03 1335.96 L335.06 1328.32 L335.09 1321.42 L335.14 1315.06 L335.18 1309.12 L335.24 1303.52 L335.30 1298.19 L335.38 1293.10 L335.46 1288.21 L335.54 1283.50 L335.64 1278.94 L335.74 1274.52 L335.85 1270.23 L335.96 1266.06 L336.09 1261.99 L336.22 1258.01 L336.36 1254.13 L336.51 1250.32 L336.66 1246.59 L336.82 1242.93 L336.99 1239.34 L337.17 1235.82 L337.35 1232.35 L337.55 1228.93 L337.74 1225.57 L337.95 1222.26" fill="none" stroke="#ff0000" stroke-width="8.6" stroke-linejoin="round"/>
<path d="M335.00 1376.90 L335.00 1355.61 L335.02 1344.74 L335.03 1335.96 L335.06 1328.32 L335.09 1321.42 L335.14 1315.06 L335.18 1309.12 L335.24 1303.52 L335.30 1298.19 L335.38 1293.10 L335.46 1288.21 L335.54 1283.50 L335.64 1278.94 L335.74 1274.52 L335.85 1270.23 L335.96 1266.06 L336.09 1261.99 L336.22 1258.01 L336.36 1254.13 L336.51 1250.32" fill="none" stroke="#ff0000" stroke-width="9.5" stroke-linejoin="round"/>
<path d="M335.00 1376.90 L335.00 1355.61 L335.02 1344.74 L335.03 1335.96 L335.06 1328.32 L335.09 1321.42 L335.14 1315.06 L335.18 1309.12 L335.24 1303.52 L335.30 1298.19 L335.38 1293.10 L335.46 1288.21" fill="none" stroke="#ff0000" stroke-width="10.5" stroke-linejoin="round"/>
<path d="M335.00 1376.90 L335.00 1367.06 L335.02 1361.26 L335.03 1356.40 L335.06 1352.05 L335.09 1348.05 L335.14 1344.31 L335.18 1340.77 L335.24 1337.40 L335.30 1334.16 L335.38 1331.04 L335.46 1328.02 L335.54 1325.09 L335.64 1322.25 L335.74 1319.47 L335.85 1316.76 L335.96 1314.11 L336.09 1311.51 L336.22 1308.96 L336.36 1306.46 L336.51 1304.00 L336.66 1301.59 L336.82 1299.21 L336.99 1296.86 L337.17 1294.55 L337.35 1292.27 L337.55 1290.03 L337.74 1287.81 L337.95 1285.61 L338.17 1283.45 L338.39 1281.30 L338.62 1279.18 L338.86 1277.09 L339.10 1275.01 L339.35 1272.96 L339.61 1270.92 L339.88 1268.91 L340.15 1266.91 L340.44 1264.93 L340.73 1262.97 L341.02 1261.03 L341.33 1259.10 L341.64 1257.19 L341.96 1255.29 L342.29 1253.40 L342.62 1251.53 L342.97 1249.68 L343.32 1247.84 L343.68 1246.01 L344.04 1244.19 L344.41 1242.38 L344.79 1240.59 L345.18 1238.81 L345.58 1237.04 L345.98 1235.28 L346.39 1233.53 L346.81 1231.80 L347.23 1230.07 L347.67 1228.35 L348.11 1226.64 L348.56 1224.95 L349.01 1223.26 L349.47 1221.58 L349.94 1219.91 L350.42 1218.25 L350.91 1216.59 L351.40 1214.95 L351.90 1213.31 L352.41 1211.68 L352.93 1210.06 L353.45 1208.45 L353.98 1206.84 L354.52 1205.25 L355.07 1203.66 L355.62 1202.07 L356.18 1200.50 L356.75 1198.93 L357.32 1197.37 L357.91 1195.81 L358.50 1194.26 L359.10 1192.72 L359.70 1191.18" fill="none" stroke="#ff0000" stroke-width="7.2" stroke-linejoin="round"/>
<path d="M335.00 1376.90 L335.00 1367.06 L335.02 1361.26 L335.03 1356.40 L335.06 1352.05 L335.09 1348.05 L335.14 1344.31 L335.18 1340.77 L335.24 1337.40 L335.30 1334.16 L335.38 1331.04 L335.46 1328.02 L335.54 1325.09 L335.64 1322.25 L335.74 1319.47 L335.85 1316.76 L335.96 1314.11 L336.09 1311.51 L336.22 1308.96 L336.36 1306.46 L336.51 1304.00 L336.66 1301.59 L336.82 1299.21 L336.99 1296.86 L337.17 1294.55 L337.35 1292.27 L337.55 1290.03 L337.74 1287.81 L337.95 1285.61 L338.17 1283.45 L338.39 1281.30 L338.62 1279.18 L338.86 1277.09 L339.10 1275.01 L339.35 1272.96 L339.61 1270.92 L339.88 1268.91 L340.15 1266.91 L340.44 1264.93 L340.73 1262.97 L341.02 1261.03 L341.33 1259.10 L341.64 1257.19 L341.96 1255.29 L342.29 1253.40 L342.62 1251.53 L342.97 1249.68 L343.32 1247.84 L343.68 1246.01 L344.04 1244.19 L344.41 1242.38 L344.79 1240.59 L345.18 1238.81 L345.58 1237.04 L345.98 1235.28 L346.39 1233.53 L346.81 1231.80 L347.23 1230.07 L347.67 1228.35 L348.11 1226.64 L348.56 1224.95 L349.01 1223.26 L349.47 1221.58 L349.94 1219.91 L350.42 1218.25 L350.91 1216.59 L351.40 1214.95 L351.90 1213.31 L352.41 1211.68 L352.93 1210.06 L353.45 1208.45 L353.98 1206.84 L354.52 1205.25" fill="none" stroke="#ff0000" stroke-width="7.9" stroke-linejoin="round"/>
<path d="M335.00 1376.90 L335.00 1367.06 L335.02 1361.26 L335.03 1356.40 L335.06 1352.05 L335.09 1348.05 L335.14 1344.31 L335.18 1340.77 L335.24 1337.40 L335.30 1334.16 L335.38 1331.04 L335.46 1328.02 L335.54 1325.09 L335.64 1322.25 L335.74 1319.47 L335.85 1316.76 L335.96 1314.11 L336.09 1311.51 L336.22 1308.96 L336.36 1306.46 L336.51 1304.00 L336.66 1301.59 L336.82 1299.21 L336.99 1296.86 L337.17 1294.55 L337.35 1292.27 L337.55 1290.03 L337.74 1287.81 L337.95 1285.61 L338.17 1283.45 L338.39 1281.30 L338.62 1279.18 L338.86 1277.09 L339.10 1275.01 L339.35 1272.96 L339.61 1270.92 L339.88 1268.91 L340.15 1266.91 L340.44 1264.93 L340.73 1262.97 L341.02 1261.03 L341.33 1259.10 L341.64 1257.19 L341.96 1255.29 L342.29 1253.40 L342.62 1251.53 L342.97 1249.68 L343.32 1247.84 L343.68 1246.01 L344.04 1244.19 L344.41 1242.38 L344.79 1240.59 L345.18 1238.81 L345.58 1237.04 L345.98 1235.28 L346.39 1233.53 L346.81 1231.80 L347.23 1230.07 L347.67 1228.35 L348.11 1226.64 L348.56 1224.95 L349.01 1223.26 L349.47 1221.58" fill="none" stroke="#ff0000" stroke-width="8.6" stroke-linejoin="round"/>
<path d="M335.00 1376.90 L335.00 1367.06 L335.02 1361.26 L335.03 1356.40 L335.06 1352.05 L335.09 1348.05 L335.14 1344.31 L335.18 1340.77 L335.24 1337.40 L335.30 1334.16 L335.38 1331.04 L335.46 1328.02 L335.54 1325.09 L335.64 1322.25 L335.74 1319.47 L335.85 1316.76 L335.96 1314.11 L336.09 1311.51 L336.22 1308.96 L336.36 1306.46 L336.51 1304.00 L336.66 1301.59 L336.82 1299.21 L336.99 1296.86 L337.17 1294.55 L337.35 1292.27 L337.55 1290.03 L337.74 1287.81 L337.95 1285.61 L338.17 1283.45 L338.39 1281.30 L338.62 1279.18 L338.86 1277.09 L339.10 1275.01 L339.35 1272.96 L339.61 1270.92 L339.88 1268.91 L340.15 1266.91 L340.44 1264.93 L340.73 1262.97 L341.02 1261.03 L341.33 1259.10 L341.64 1257.19 L341.96 1255.29 L342.29 1253.40 L342.62 1251.53" fill="none" stroke="#ff0000" stroke-width="9.5" stroke-linejoin="round"/>
<path d="M335.00 1376.90 L335.00 1367.06 L335.02 1361.26 L335.03 1356.40 L335.06 1352.05 L335.09 1348.05 L335.14 1344.31 L335.18 1340.77 L335.24 1337.40 L335.30 1334.16 L335.38 1331.04 L335.46 1328.02 L335.54 1325.09 L335.64 1322.25 L335.74 1319.47 L335.85 1316.76 L335.96 1314.11 L336.09 1311.51 L336.22 1308.96 L336.36 1306.46 L336.51 1304.00 L336.66 1301.59 L336.82 1299.21 L336.99 1296.86 L337.17 1294.55 L337.35 1292.27 L337.55 1290.03 L337.74 1287.81 L337.95 1285.61" fill="none" stroke="#ff0000" stroke-width="10.5" stroke-linejoin="round"/>
<path d="M335.00 1376.90 L335.00 1366.81 L335.02 1361.34 L335.03 1356.86 L335.06 1352.91 L335.09 1349.32 L335.14 1345.99 L335.18 1342.86 L335.24 1339.90 L335.30 1337.07 L335.38 1334.36 L335.46 1331.75 L335.54 1329.23 L335.64 1326.78 L335.74 1324.40 L335.85 1322.09 L335.96 1319.84 L336.09 1317.63 L336.22 1315.48 L336.36 1313.37 L336.51 1311.30 L336.66 1309.26 L336.82 1307.27 L336.99 1305.31 L337.17 1303.38 L337.35 1301.48 L337.55 1299.61 L337.74 1297.76 L337.95 1295.94 L338.17 1294.15 L338.39 1292.37 L338.62 1290.62 L338.86 1288.89 L339.10 1287.19 L339.35 1285.50 L339.61 1283.83 L339.88 1282.17 L340.15 1280.54 L340.44 1278.92 L340.73 1277.31 L341.02 1275.72 L341.33 1274.15 L341.64 1272.59 L341.96 1271.05 L342.29 1269.51 L342.62 1268.00 L342.97 1266.49 L343.32 1264.99 L343.68 1263.51 L344.04 1262.04 L344.41 1260.58 L344.79 1259.13 L345.18 1257.70 L345.58 1256.27 L345.98 1254.85 L346.39 1253.44 L346.81 1252.04 L347.23 1250.66 L347.67 1249.28 L348.11 1247.91 L348.56 1246.54 L349.01 1245.19 L349.47 1243.84 L349.94 1242.51 L350.42 1241.18 L350.91 1239.86 L351.40 1238.54 L351.90 1237.24 L352.41 1235.94 L352.93 1234.64 L353.45 1233.36 L353.98 1232.08 L354.52 1230.81 L355.07 1229.54 L355.62 1228.29 L356.18 1227.03 L356.75 1225.79 L357.32 1224.55 L357.91 1223.32 L358.50 1222.09 L359.10 1220.87 L359.70 1219.65 L360.32 1218.44 L360.94 1217.23 L361.57 1216.03 L362.20 1214.84 L362.85 1213.65 L363.50 1212.47 L364.16 1211.29 L364.82 1210.11 L365.50 1208.95 L366.18 1207.78 L366.87 1206.62 L367.57 1205.47 L368.27 1204.32 L368.98 1203.17 L369.70 1202.03 L370.43 1200.90 L371.16 1199.76 L371.90 1198.64 L372.65 1197.51 L373.41 1196.39 L374.17 1195.28 L374.95 1194.17 L375.73 1193.06" fill="none" stroke="#ff0000" stroke-width="7.2" stroke-linejoin="round"/>
<path d="M335.00 1376.90 L335.00 1366.81 L335.02 1361.34 L335.03 1356.86 L335.06 1352.91 L335.09 1349.32 L335.14 1345.99 L335.18 1342.86 L335.24 1339.90 L335.30 1337.07 L335.38 1334.36 L335.46 1331.75 L335.54 1329.23 L335.64 1326.78 L335.74 1324.40 L335.85 1322.09 L335.96 1319.84 L336.09 1317.63 L336.22 1315.48 L336.36 1313.37 L336.51 1311.30 L336.66 1309.26 L336.82 1307.27 L336.99 1305.31 L337.17 1303.38 L337.35 1301.48 L337.55 1299.61 L337.74 1297.76 L337.95 1295.94 L338.17 1294.15 L338.39 1292.37 L338.62 1290.62 L338.86 1288.89 L339.10 1287.19 L339.35 1285.50 L339.61 1283.83 L339.88 1282.17 L340.15 1280.54 L340.44 1278.92 L340.73 1277.31 L341.02 1275.72 L341.33 1274.15 L341.64 1272.59 L341.96 1271.05 L342.29 1269.51 L342.62 1268.00 L342.97 1266.49 L343.32 1264.99 L343.68 1263.51 L344.04 1262.04 L344.41 1260.58 L344.79 1259.13 L345.18 1257.70 L345.58 1256.27 L345.98 1254.85 L346.39 1253.44 L346.81 1252.04 L347.23 1250.66 L347.67 1249.28 L348.11 1247.91 L348.56 1246.54 L349.01 1245.19 L349.47 1243.84 L349.94 1242.51 L350.42 1241.18 L350.91 1239.86 L351.40 1238.54 L351.90 1237.24 L352.41 1235.94 L352.93 1234.64 L353.45 1233.36 L353.98 1232.08 L354.52 1230.81 L355.07 1229.54 L355.62 1228.29 L356.18 1227.03 L356.75 1225.79 L357.32 1224.55 L357.91 1223.32 L358.50 1222.09 L359.10 1220.87 L359.70 1219.65 L360.32 1218.44 L360.94 1217.23 L361.57 1216.03 L362.20 1214.84 L362.85 1213.65 L363.50 1212.47 L364.16 1211.29 L364.82 1210.11 L365.50 1208.95 L366.18 1207.78 L366.87 1206.62 L367.57 1205.47" fill="none" stroke="#ff0000" stroke-width="7.9" stroke-linejoin="round"/>
<path d="M335.00 1376.90 L335.00 1366.81 L335.02 1361.34 L335.03 1356.86 L335.06 1352.91 L335.09 1349.32 L335.14 1345.99 L335.18 1342.86 L335.24 1339.90 L335.30 1337.07 L335.38 1334.36 L335.46 1331.75 L335.54 1329.23 L335.64 1326.78 L335.74 1324.40 L335.85 1322.09 L335.96 1319.84 L336.09 1317.63 L336.22 1315.48 L336.36 1313.37 L336.51 1311.30 L336.66 1309.26 L336.82 1307.27 L336.99 1305.31 L337.17 1303.38 L337.35 1301.48 L337.55 1299.61 L337.74 1297.76 L337.95 1295.94 L338.17 1294.15 L338.39 1292.37 L338.62 1290.62 L338.86 1288.89 L339.10 1287.19 L339.35 1285.50 L339.61 1283.83 L339.88 1282.17 L340.15 1280.54 L340.44 1278.92 L340.73 1277.31 L341.02 1275.72 L341.33 1274.15 L341.64 1272.59 L341.96 1271.05 L342.29 1269.51 L342.62 1268.00 L342.97 1266.49 L343.32 1264.99 L343.68 1263.51 L344.04 1262.04 L344.41 1260.58 L344.79 1259.13 L345.18 1257.70 L345.58 1256.27 L345.98 1254.85 L346.39 1253.44 L346.81 1252.04 L347.23 1250.66 L347.67 1249.28 L348.11 1247.91 L348.56 1246.54 L349.01 1245.19 L349.47 1243.84 L349.94 1242.51 L350.42 1241.18 L350.91 1239.86 L351.40 1238.54 L351.90 1237.24 L352.41 1235.94 L352.93 1234.64 L353.45 1233.36 L353.98 1232.08 L354.52 1230.81 L355.07 1229.54 L355.62 1228.29 L356.18 1227.03 L356.75 1225.79 L357.32 1224.55 L357.91 1223.32 L358.50 1222.09 L359.10 1220.87" fill="none" stroke="#ff0000" stroke-width="8.6" stroke-linejoin="round"/>
<path d="M335.00 1376.90 L335.00 1366.81 L335.02 1361.34 L335.03 1356.86 L335.06 1352.91 L335.09 1349.32 L335.14 1345.99 L335.18 1342.86 L335.24 1339.90 L335.30 1337.07 L335.38 1334.36 L335.46 1331.75 L335.54 1329.23 L335.64 1326.78 L335.74 1324.40 L335.85 1322.09 L335.96 1319.84 L336.09 1317.63 L336.22 1315.48 L336.36 1313.37 L336.51 1311.30 L336.66 1309.26 L336.82 1307.27 L336.99 1305.31 L337.17 1303.38 L337.35 1301.48 L337.55 1299.61 L337.74 1297.76 L337.95 1295.94 L338.17 1294.15 L338.39 1292.37 L338.62 1290.62 L338.86 1288.89 L339.10 1287.19 L339.35 1285.50 L339.61 1283.83 L339.88 1282.17 L340.15 1280.54 L340.44 1278.92 L340.73 1277.31 L341.02 1275.72 L341.33 1274.15 L341.64 1272.59 L341.96 1271.05 L342.29 1269.51 L342.62 1268.00 L342.97 1266.49 L343.32 1264.99 L343.68 1263.51 L344.04 1262.04 L344.41 1260.58 L344.79 1259.13 L345.18 1257.70 L345.58 1256.27 L345.98 1254.85 L346.39 1253.44 L346.81 1252.04 L347.23 1250.66" fill="none" stroke="#ff0000" stroke-width="9.5" stroke-linejoin="round"/>
<path d="M335.00 1376.90 L335.00 1366.81 L335.02 1361.34 L335.03 1356.86 L335.06 1352.91 L335.09 1349.32 L335.14 1345.99 L335.18 1342.86 L335.24 1339.90 L335.30 1337.07 L335.38 1334.36 L335.46 1331.75 L335.54 1329.23 L335.64 1326.78 L335.74 1324.40 L335.85 1322.09 L335.96 1319.84 L336.09 1317.63 L336.22 1315.48 L336.36 1313.37 L336.51 1311.30 L336.66 1309.26 L336.82 1307.27 L336.99 1305.31 L337.17 1303.38 L337.35 1301.48 L337.55 1299.61 L337.74 1297.76 L337.95 1295.94 L338.17 1294.15 L338.39 1292.37 L338.62 1290.62 L338.86 1288.89 L339.10 1287.19 L339.35 1285.50" fill="none" stroke="#ff0000" stroke-width="10.5" stroke-linejoin="round"/>
<path d="M335.00 1376.90 L335.00 1369.64 L335.02 1365.54 L335.03 1362.14 L335.06 1359.12 L335.09 1356.36 L335.14 1353.79 L335.18 1351.37 L335.24 1349.07 L335.30 1346.86 L335.38 1344.75 L335.46 1342.70 L335.54 1340.73 L335.64 1338.81 L335.74 1336.94 L335.85 1335.11 L335.96 1333.33 L336.09 1331.59 L336.22 1329.89 L336.36 1328.21 L336.51 1326.57 L336.66 1324.96 L336.82 1323.38 L336.99 1321.82 L337.17 1320.28 L337.35 1318.76 L337.55 1317.27 L337.74 1315.80 L337.95 1314.35 L338.17 1312.91 L338.39 1311.49 L338.62 1310.09 L338.86 1308.71 L339.10 1307.34 L339.35 1305.98 L339.61 1304.64 L339.88 1303.31 L340.15 1302.00 L340.44 1300.69 L340.73 1299.40 L341.02 1298.13 L341.33 1296.86 L341.64 1295.60 L341.96 1294.36 L342.29 1293.12 L342.62 1291.89 L342.97 1290.68 L343.32 1289.47 L343.68 1288.27 L344.04 1287.08 L344.41 1285.90 L344.79 1284.73 L345.18 1283.57 L345.58 1282.41 L345.98 1281.26 L346.39 1280.12 L346.81 1278.99 L347.23 1277.86 L347.67 1276.74 L348.11 1275.63 L348.56 1274.52 L349.01 1273.42 L349.47 1272.33 L349.94 1271.24 L350.42 1270.16 L350.91 1269.08 L351.40 1268.02 L351.90 1266.95 L352.41 1265.89 L352.93 1264.84 L353.45 1263.79 L353.98 1262.75 L354.52 1261.72 L355.07 1260.68 L355.62 1259.66 L356.18 1258.64 L356.75 1257.62 L357.32 1256.61 L357.91 1255.60 L358.50 1254.60 L359.10 1253.60 L359.70 1252.60 L360.32 1251.61 L360.94 1250.63 L361.57 1249.65 L362.20 1248.67 L362.85 1247.70 L363.50 1246.73 L364.16 1245.76 L364.82 1244.80 L365.50 1243.84 L366.18 1242.89 L366.87 1241.94 L367.57 1240.99 L368.27 1240.05 L368.98 1239.11 L369.70 1238.18 L370.43 1237.24 L371.16 1236.31 L371.90 1235.39 L372.65 1234.47 L373.41 1233.55 L374.17 1232.63 L374.95 1231.72 L375.73 1230.81" fill="none" stroke="#ff0000" stroke-width="7.2" stroke-linejoin="round"/>
<path d="M335.00 1376.90 L335.00 1369.64 L335.02 1365.54 L335.03 1362.14 L335.06 1359.12 L335.09 1356.36 L335.14 1353.79 L335.18 1351.37 L335.24 1349.07 L335.30 1346.86 L335.38 1344.75 L335.46 1342.70 L335.54 1340.73 L335.64 1338.81 L335.74 1336.94 L335.85 1335.11 L335.96 1333.33 L336.09 1331.59 L336.22 1329.89 L336.36 1328.21 L336.51 1326.57 L336.66 1324.96 L336.82 1323.38 L336.99 1321.82 L337.17 1320.28 L337.35 1318.76 L337.55 1317.27 L337.74 1315.80 L337.95 1314.35 L338.17 1312.91 L338.39 1311.49 L338.62 1310.09 L338.86 1308.71 L339.10 1307.34 L339.35 1305.98 L339.61 1304.64 L339.88 1303.31 L340.15 1302.00 L340.44 1300.69 L340.73 1299.40 L341.02 1298.13 L341.33 1296.86 L341.64 1295.60 L341.96 1294.36 L342.29 1293.12 L342.62 1291.89 L342.97 1290.68 L343.32 1289.47 L343.68 1288.27 L344.04 1287.08 L344.41 1285.90 L344.79 1284.73 L345.18 1283.57 L345.58 1282.41 L345.98 1281.26 L346.39 1280.12 L346.81 1278.99 L347.23 1277.86 L347.67 1276.74 L348.11 1275.63 L348.56 1274.52 L349.01 1273.42 L349.47 1272.33 L349.94 1271.24 L350.42 1270.16 L350.91 1269.08 L351.40 1268.02 L351.90 1266.95 L352.41 1265.89 L352.93 1264.84 L353.45 1263.79 L353.98 1262.75 L354.52 1261.72 L355.07 1260.68 L355.62 1259.66 L356.18 1258.64 L356.75 1257.62 L357.32 1256.61 L357.91 1255.60 L358.50 1254.60 L359.10 1253.60 L359.70 1252.60 L360.32 1251.61 L360.94 1250.63 L361.57 1249.65 L362.20 1248.67 L362.85 1247.70 L363.50 1246.73 L364.16 1245.76 L364.82 1244.80 L365.50 1243.84 L366.18 1242.89 L366.87 1241.94 L367.57 1240.99 L368.27 1240.05 L368.98 1239.11 L369.70 1238.18" fill="none" stroke="#ff0000" stroke-width="7.9" stroke-linejoin="round"/>
<path d="M335.00 1376.90 L335.00 1369.64 L335.02 1365.54 L335.03 1362.14 L335.06 1359.12 L335.09 1356.36 L335.14 1353.79 L335.18 1351.37 L335.24 1349.07 L335.30 1346.86 L335.38 1344.75 L335.46 1342.70 L335.54 1340.73 L335.64 1338.81 L335.74 1336.94 L335.85 1335.11 L335.96 1333.33 L336.09 1331.59 L336.22 1329.89 L336.36 1328.21 L336.51 1326.57 L336.66 1324.96 L336.82 1323.38 L336.99 1321.82 L337.17 1320.28 L337.35 1318.76 L337.55 1317.27 L337.74 1315.80 L337.95 1314.35 L338.17 1312.91 L338.39 1311.49 L338.62 1310.09 L338.86 1308.71 L339.10 1307.34 L339.35 1305.98 L339.61 1304.64 L339.88 1303.31 L340.15 1302.00 L340.44 1300.69 L340.73 1299.40 L341.02 1298.13 L341.33 1296.86 L341.64 1295.60 L341.96 1294.36 L342.29 1293.12 L342.62 1291.89 L342.97 1290.68 L343.32 1289.47 L343.68 1288.27 L344.04 1287.08 L344.41 1285.90 L344.79 1284.73 L345.18 1283.57 L345.58 1282.41 L345.98 1281.26 L346.39 1280.12 L346.81 1278.99 L347.23 1277.86 L347.67 1276.74 L348.11 1275.63 L348.56 1274.52 L349.01 1273.42 L349.47 1272.33 L349.94 1271.24 L350.42 1270.16 L350.91 1269.08 L351.40 1268.02 L351.90 1266.95 L352.41 1265.89 L352.93 1264.84 L353.45 1263.79 L353.98 1262.75 L354.52 1261.72 L355.07 1260.68 L355.62 1259.66 L356.18 1258.64 L356.75 1257.62 L357.32 1256.61 L357.91 1255.60 L358.50 1254.60 L359.10 1253.60 L359.70 1252.60 L360.32 1251.61 L360.94 1250.63 L361.57 1249.65 L362.20 1248.67 L362.85 1247.70 L363.50 1246.73 L364.16 1245.76 L364.82 1244.80" fill="none" stroke="#ff0000" stroke-width="8.6" stroke-linejoin="round"/>
<path d="M335.00 1376.90 L335.00 1369.64 L335.02 1365.54 L335.03 1362.14 L335.06 1359.12 L335.09 1356.36 L335.14 1353.79 L335.18 1351.37 L335.24 1349.07 L335.30 1346.86 L335.38 1344.75 L335.46 1342.70 L335.54 1340.73 L335.64 1338.81 L335.74 1336.94 L335.85 1335.11 L335.96 1333.33 L336.09 1331.59 L336.22 1329.89 L336.36 1328.21 L336.51 1326.57 L336.66 1324.96 L336.82 1323.38 L336.99 1321.82 L337.17 1320.28 L337.35 1318.76 L337.55 1317.27 L337.74 1315.80 L337.95 1314.35 L338.17 1312.91 L338.39 1311.49 L338.62 1310.09 L338.86 1308.71 L339.10 1307.34 L339.35 1305.98 L339.61 1304.64 L339.88 1303.31 L340.15 1302.00 L340.44 1300.69 L340.73 1299.40 L341.02 1298.13 L341.33 1296.86 L341.64 1295.60 L341.96 1294.36 L342.29 1293.12 L342.62 1291.89 L342.97 1290.68 L343.32 1289.47 L343.68 1288.27 L344.04 1287.08 L344.41 1285.90 L344.79 1284.73 L345.18 1283.57 L345.58 1282.41 L345.98 1281.26 L346.39 1280.12 L346.81 1278.99 L347.23 1277.86 L347.67 1276.74 L348.11 1275.63 L348.56 1274.52 L349.01 1273.42 L349.47 1272.33 L349.94 1271.24 L350.42 1270.16 L350.91 1269.08 L351.40 1268.02 L351.90 1266.95 L352.41 1265.89 L352.93 1264.84 L353.45 1263.79 L353.98 1262.75 L354.52 1261.72 L355.07 1260.68 L355.62 1259.66 L356.18 1258.64 L356.75 1257.62 L357.32 1256.61 L357.91 1255.60 L358.50 1254.60 L359.10 1253.60 L359.70 1252.60" fill="none" stroke="#ff0000" stroke-width="9.5" stroke-linejoin="round"/>
<path d="M335.00 1376.90 L335.00 1369.64 L335.02 1365.54 L335.03 1362.14 L335.06 1359.12 L335.09 1356.36 L335.14 1353.79 L335.18 1351.37 L335.24 1349.07 L335.30 1346.86 L335.38 1344.75 L335.46 1342.70 L335.54 1340.73 L335.64 1338.81 L335.74 1336.94 L335.85 1335.11 L335.96 1333.33 L336.09 1331.59 L336.22 1329.89 L336.36 1328.21 L336.51 1326.57 L336.66 1324.96 L336.82 1323.38 L336.99 1321.82 L337.17 1320.28 L337.35 1318.76 L337.55 1317.27 L337.74 1315.80 L337.95 1314.35 L338.17 1312.91 L338.39 1311.49 L338.62 1310.09 L338.86 1308.71 L339.10 1307.34 L339.35 1305.98 L339.61 1304.64 L339.88 1303.31 L340.15 1302.00 L340.44 1300.69 L340.73 1299.40 L341.02 1298.13 L341.33 1296.86 L341.64 1295.60 L341.96 1294.36 L342.29 1293.12 L342.62 1291.89 L342.97 1290.68 L343.32 1289.47 L343.68 1288.27 L344.04 1287.08 L344.41 1285.90" fill="none" stroke="#ff0000" stroke-width="10.5" stroke-linejoin="round"/>
</g>
<g transform="translate(15.264 0.5) scale(0.9530 1)">
<text x="306" y="1394.90" font-size="67" text-anchor="end">0.00</text>
<text x="306" y="1134.50" font-size="67" text-anchor="end">0.02</text>
<text x="306" y="874.10" font-size="67" text-anchor="end">0.04</text>
<text x="306" y="613.70" font-size="67" text-anchor="end">0.06</text>
<text x="306" y="353.30" font-size="67" text-anchor="end">0.08</text>
<text x="306" y="92.90" font-size="67" text-anchor="end">0.10</text>
</g>
<text x="336.20" y="1456" font-size="67" text-anchor="middle">0</text>
<text x="606.10" y="1456" font-size="67" text-anchor="middle">2</text>
<text x="877.20" y="1456" font-size="67" text-anchor="middle">4</text>
<text x="1148.30" y="1456" font-size="67" text-anchor="middle">6</text>
<text x="1419.40" y="1456" font-size="67" text-anchor="middle">8</text>
<text x="1690.50" y="1456" font-size="67" text-anchor="middle">10</text>
<text x="1961.60" y="1456" font-size="67" text-anchor="middle">12</text>
<g transform="translate(50.992 -1.500) scale(0.9567 1)"><text x="1188.60" y="1560.70" font-size="78" text-anchor="middle">Time /h</text></g>
<text transform="translate(121.7 669.843) rotate(-90) scale(0.9858 1)" x="0" y="0" font-size="78" text-anchor="middle">Absorption Rate /%</text>
<rect x="492.75" y="128.45" width="24.5" height="24.5" fill="none" stroke="#000" stroke-width="8"/>
<circle cx="505.00" cy="219.80" r="14.7" fill="none" stroke="#008000" stroke-width="7.8"/>
<path d="M483.40 314.90 L502.20 275.10 L507.80 275.10 L526.60 314.90 Z M494.10 306.70 L502.60 290.80 L507.40 290.80 L515.90 306.70 Z" fill="#ff00ff" fill-rule="evenodd"/>
<path d="M483.40 366.10 L502.20 405.90 L507.80 405.90 L526.60 366.10 Z M494.10 374.30 L502.60 390.20 L507.40 390.20 L515.90 374.30 Z" fill="#8000ff" fill-rule="evenodd"/>
<path d="M502.12 440.23 L507.88 440.23 L512.83 451.77 L525.19 451.77 L525.19 459.49 L519.01 462.89 L519.42 479.37 L512.83 479.37 L507.68 473.40 L502.32 473.40 L497.17 479.37 L490.58 479.37 L490.99 462.89 L484.81 459.49 L484.81 451.77 L497.17 451.77 Z M502.30 459.80 h5.4 v3.8 h-5.4 Z" fill="#000080" fill-rule="evenodd"/>
<line x1="429" y1="541.1" x2="581" y2="541.1" stroke="#ff0000" stroke-width="7"/>
<g transform="translate(21.135 -1.500) scale(0.9654 1)"><text x="610.00" y="162.50" font-size="66" text-anchor="start">TWG</text></g>
<g transform="translate(22.821 -1.700) scale(0.9618 1)"><text x="610.00" y="242.80" font-size="66" text-anchor="start">TWG-0.2</text></g>
<g transform="translate(18.156 -1.300) scale(0.9695 1)"><text x="610.00" y="323.30" font-size="66" text-anchor="start">TWG-0.5</text></g>
<g transform="translate(20.409 -1.200) scale(0.9658 1)"><text x="610.00" y="402.50" font-size="66" text-anchor="start">TWG-0.7</text></g>
<g transform="translate(26.880 -0.800) scale(0.9552 1)"><text x="610.00" y="483.30" font-size="66" text-anchor="start">TWG-1</text></g>
<g transform="translate(23.430 -1.000) scale(0.9622 1)"><text x="593.00" y="563.60" font-size="66" text-anchor="start">Fitted Curves</text></g>
</svg>
</body></html>
